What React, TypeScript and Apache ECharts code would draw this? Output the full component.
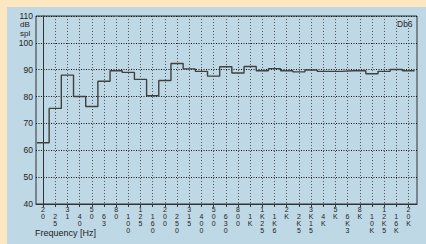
import React, { useEffect, useRef } from "react";
import * as echarts from "echarts";

const bandLabels = ["20","25","31","40","50","63","80","100","125","160","200","250","315","400","500","630","800","1K","1K25","1K6","2K","2K5","3K15","4K","5K","6K3","8K","10K","12K5","16K","20K"];
const levels = [62.8,75.6,88,80,76.3,85.7,89.6,89,86.4,80.3,86,92.3,90.3,89.4,87.6,91.1,88.8,91.2,89.6,90.4,89.6,89.2,89.9,89.4,89.4,89.6,89.6,88.5,89.4,90.1,89.6];
const yTicks = [40,50,60,70,80,90,100,110];

const X_MIN = -0.58;
const X_MAX = 30.7;
const FONT = "Liberation Sans";

export default function App() {
  const ref = useRef<HTMLDivElement>(null);
  useEffect(() => {
    if (!ref.current) return;
    const chart = echarts.init(ref.current, null, { renderer: "svg" });
    const idx = bandLabels.map((_, i) => i);
    const pts: number[][] = [];
    levels.forEach((v, i) => {
      pts.push([Math.max(i - 0.5, X_MIN), v]);
      pts.push([Math.min(i + 0.5, X_MAX), v]);
    });
    chart.setOption({
      animation: false,
      backgroundColor: "#fce7c0",
      graphic: [
        { type: "rect", shape: { x: 7, y: 7, width: 419, height: 237 }, style: { fill: "#bfd8e5" }, z: -10 },
        { type: "text", x: 20, y: 20.5, style: { text: "dB", font: `8px ${FONT}`, fill: "#222" } },
        { type: "text", x: 20, y: 29, style: { text: "spl", font: `8px ${FONT}`, fill: "#222" } },
        { type: "text", x: 397, y: 19, style: { text: "Db6", font: `8.5px ${FONT}`, fill: "#222" } },
        { type: "text", x: 35, y: 228.5, style: { text: "Frequency [Hz]", font: `9px ${FONT}`, fill: "#222" } },
      ],
      grid: { left: 36, right: 9, top: 16, bottom: 40, show: true, borderColor: "#333", borderWidth: 1, backgroundColor: "transparent" },
      xAxis: {
        type: "value",
        min: X_MIN,
        max: X_MAX,
        axisLine: { show: true, lineStyle: { color: "#333", width: 1 } },
        splitLine: { show: true, lineStyle: { color: "#555", type: [1, 2], width: 1 } },
        axisTick: { show: true, customValues: idx, length: 3, inside: false, lineStyle: { color: "#333" } },
        axisLabel: {
          customValues: idx,
          margin: 2,
          formatter: (val: number) => {
            const i = Math.round(val);
            const chars = (bandLabels[i] || "").split("").map((c) => `{t|${c}}`).join("\n");
            return i % 2 === 1 ? `{g|}\n${chars}` : chars;
          },
          rich: {
            t: { fontSize: 7, lineHeight: 7, fontFamily: FONT, color: "#222" },
            g: { fontSize: 7, lineHeight: 7, fontFamily: FONT },
          },
        },
      },
      yAxis: {
        type: "value",
        min: 40,
        max: 110,
        interval: 10,
        axisLine: { show: true, lineStyle: { color: "#333", width: 1 } },
        axisTick: { show: false },
        axisLabel: { margin: 3, fontSize: 8.5, fontFamily: FONT, color: "#222", customValues: yTicks },
        splitLine: { show: true, lineStyle: { color: "#111", type: [1, 1.5], width: 1 } },
      },
      series: [
        {
          type: "line",
          data: pts,
          symbol: "none",
          lineStyle: { color: "#404040", width: 1.4 },
          z: 3,
        },
      ],
    });
    return () => chart.dispose();
  }, []);
  return <div ref={ref} style={{ position: "absolute", left: 0, top: 0, width: 426, height: 244 }} />;
}
